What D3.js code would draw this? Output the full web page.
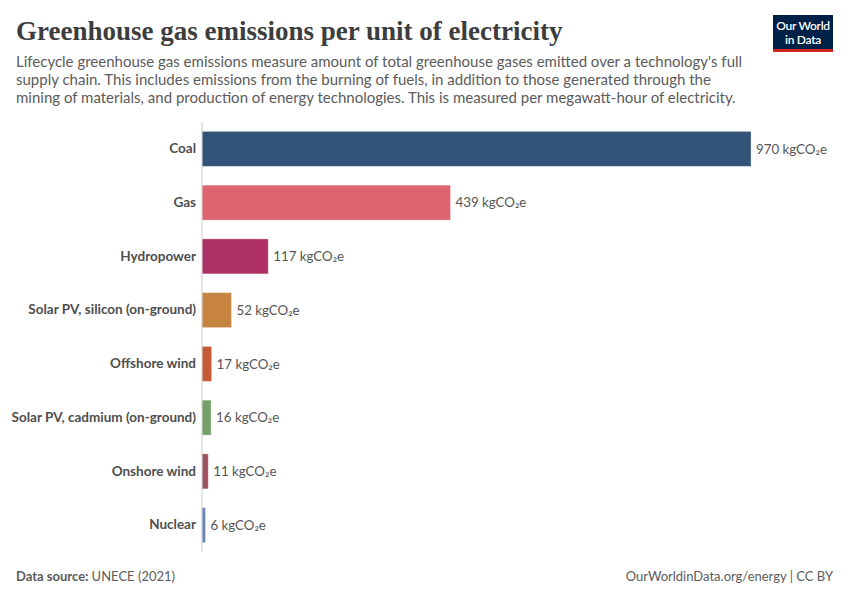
<!DOCTYPE html>
<html>
<head>
<meta charset="utf-8">
<script src="https://cdn.jsdelivr.net/npm/d3@7"></script>
<style>
  body { margin: 0; background: #fff; }
  text { font-family: Lato, "Noto Sans", sans-serif; }
</style>
</head>
<body>
<div id="chart"></div>
<script>
// chart data
var categories = ["Coal", "Gas", "Hydropower", "Solar PV, silicon (on-ground)",
  "Offshore wind", "Solar PV, cadmium (on-ground)", "Onshore wind", "Nuclear"];
var values = [970, 439, 117, 52, 17, 16, 11, 6];
var colors = ["#335479", "#e06371", "#ad3166", "#c78441", "#c65a36", "#75a06a", "#9f5362", "#6684b9"];
var unit = " kgCO₂e";

var subtitleLines = [
  "Lifecycle greenhouse gas emissions measure amount of total greenhouse gases emitted over a technology's full",
  "supply chain. This includes emissions from the burning of fuels, in addition to those generated through the",
  "mining of materials, and production of energy technologies. This is measured per megawatt-hour of electricity."
];

var svgWidth = 850;
var svgHeight = 600;

var margin = { top: 122, right: 99, bottom: 48, left: 202 };
var chartWidth = svgWidth - margin.left - margin.right;
var chartHeight = svgHeight - margin.top - margin.bottom;

var svg = d3.select("#chart")
  .append("svg")
  .attr("width", svgWidth)
  .attr("height", svgHeight);

// Title + subtitle
svg.append("text")
  .attr("x", 16)
  .attr("y", 40)
  .attr("fill", "#3d3d3d")
  .style("font-family", "'Liberation Serif', 'DejaVu Serif', serif")
  .style("font-size", "27px")
  .style("font-weight", 700)
  .text("Greenhouse gas emissions per unit of electricity");

svg.append("g").selectAll("text")
  .data(subtitleLines)
  .join("text")
  .attr("x", 16)
  .attr("y", 67 + 0)
  .attr("dy", (d, i) => i * 18)
  .attr("fill", "#5b5b5b")
  .style("font-size", "15px")
  .text(d => d);

// Logo
var logo = svg.append("g").attr("transform", "translate(773, 15)");
logo.append("rect").attr("width", 60).attr("height", 37).attr("fill", "#002147");
logo.append("rect").attr("y", 34).attr("width", 60).attr("height", 3).attr("fill", "#ce261e");
logo.append("text").attr("x", 30).attr("y", 15).attr("text-anchor", "middle")
  .attr("fill", "#fff").style("font-size", "12px").style("font-weight", 600)
  .style("letter-spacing", "-0.3px").text("Our World");
logo.append("text").attr("x", 30).attr("y", 29).attr("text-anchor", "middle")
  .attr("fill", "#fff").style("font-size", "12px").style("font-weight", 600)
  .style("letter-spacing", "-0.3px").text("in Data");

var chartGroup = svg.append("g")
  .attr("transform", `translate(${margin.left}, ${margin.top})`);

// Scales
var xLinearScale = d3.scaleLinear()
  .domain([0, 970])
  .range([0, 549]);

var yBandScale = d3.scaleBand()
  .domain(categories)
  .range([0, chartHeight])
  .paddingInner(0.35)
  .paddingOuter(0.175);

// Bars
chartGroup.selectAll("rect.bar")
  .data(values)
  .join("rect")
  .attr("class", "bar")
  .attr("x", 0)
  .attr("y", (d, i) => yBandScale(categories[i]))
  .attr("width", d => xLinearScale(d))
  .attr("height", yBandScale.bandwidth())
  .attr("fill", (d, i) => colors[i])
  .attr("stroke", "#fff")
  .attr("stroke-opacity", 0.35)
  .attr("stroke-width", 0.8);

// Value labels
chartGroup.selectAll("text.value")
  .data(values)
  .join("text")
  .attr("class", "value")
  .attr("x", d => xLinearScale(d) + 5)
  .attr("y", (d, i) => yBandScale(categories[i]) + yBandScale.bandwidth() / 2)
  .attr("dy", "0.35em")
  .attr("fill", "#555")
  .style("font-size", "13.3px")
  .text(d => d + unit);

// Y axis (category labels)
var leftAxis = d3.axisLeft(yBandScale).tickSize(0).tickPadding(6);
var yAxis = chartGroup.append("g").call(leftAxis);
yAxis.select(".domain").remove();
yAxis.selectAll("text")
  .attr("fill", "#4e4e4e")
  .style("font-family", "Lato, sans-serif")
  .style("font-size", "13.5px")
  .style("font-weight", 700);

// baseline
chartGroup.append("line")
  .attr("x1", 0).attr("x2", 0)
  .attr("y1", 0).attr("y2", chartHeight)
  .attr("stroke", "#ccc")
  .attr("stroke-width", 1);

// Footer
var footer = svg.append("text")
  .attr("x", 16)
  .attr("y", 581)
  .attr("fill", "#5b5b5b")
  .style("font-size", "13px");
footer.append("tspan").style("font-weight", 700).text("Data source: ");
footer.append("tspan").text("UNECE (2021)");

svg.append("text")
  .attr("x", 833)
  .attr("y", 581)
  .attr("text-anchor", "end")
  .attr("fill", "#5b5b5b")
  .style("font-size", "13px")
  .text("OurWorldinData.org/energy | CC BY");
</script>
</body>
</html>
